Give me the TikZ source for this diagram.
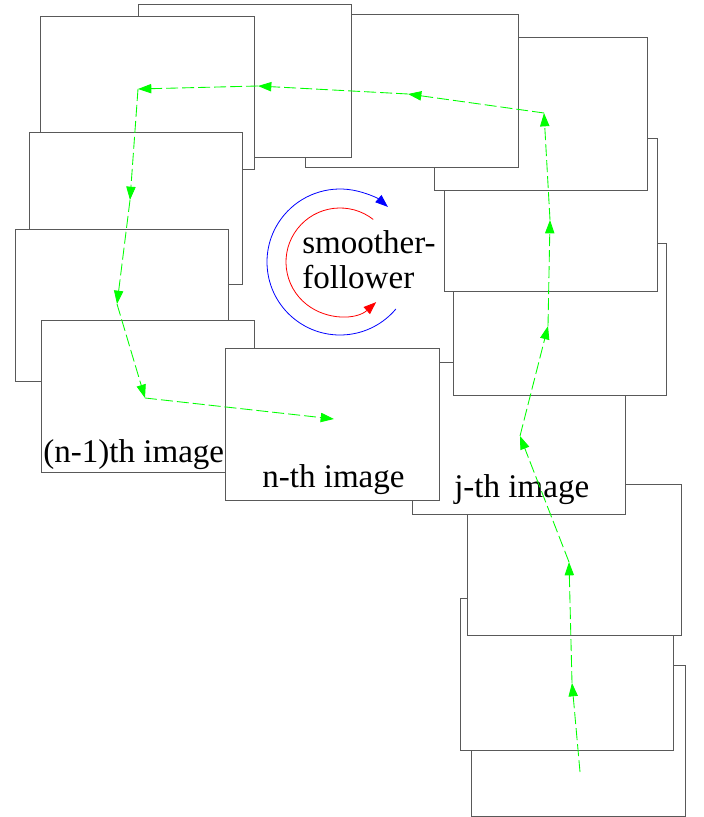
\documentclass[tikz,border=0pt]{standalone}
\usepackage{fontspec}
\setmainfont{Liberation Serif}
\usetikzlibrary{arrows.meta}
\begin{document}
\begin{tikzpicture}[x=0.75pt,y=-0.75pt,
  frame/.style={draw=black!65,line width=0.75pt,fill=white},
  track/.style={draw=green,line width=0.65pt,dash pattern=on 9pt off 3pt,
    -{Triangle[length=10pt,width=7pt]}},
  loop/.style={line width=0.6pt,-{Triangle[length=9.5pt,width=7pt]}},
  label/.style={inner sep=0pt,anchor=base west,font=\fontsize{24.8}{30}\selectfont}]
\useasboundingbox (0,0) rectangle (703,817);

% image frames, oldest at the back, newest on top
\draw[frame] (471,665) rectangle (685,816);
\draw[frame] (460,598) rectangle (673,750);
\draw[frame] (467,484) rectangle (681,635);
\draw[frame] (412,362) rectangle (625,514);
\draw[frame] (453,243) rectangle (666,395);
\draw[frame] (444,138) rectangle (657,291);
\draw[frame] (434,38) rectangle (647,190);
\draw[frame] (305,15) rectangle (518,167);
\draw[frame] (138,5) rectangle (351,157);
\draw[frame] (40,17) rectangle (254,169);
\draw[frame] (29,132) rectangle (242,284);
\draw[frame] (15,229) rectangle (228,381);
\draw[frame] (41,320) rectangle (254,472);
\draw[frame] (225,348) rectangle (439,500);

% frame labels
\node[label] (prev) at (43,462) {(n-1)th image};
\node[label] (curr) at (262,487) {n-th image};
\node[label] (jth) at (454,497) {j-th image};
\node[label] (sm1) at (302,253) {smoother-};
\node[label] (sm2) at (302,288) {follower};

% smoother / follower loops
\coordinate (ctr) at (340,262);
\draw[loop,blue] (ctr) ++(320:54.75pt) arc[start angle=320,end angle=49,radius=54.75pt];
\draw[loop,red] (ctr) ++(52:40.5pt) arc[start angle=52,end angle=312,radius=40.5pt];

% camera track through the frame centres
\coordinate (p0) at (580,772);
\coordinate (p1) at (572,683);
\coordinate (p2) at (569,562);
\coordinate (p3) at (520,436);
\coordinate (p4) at (548,326);
\coordinate (p5) at (550,220);
\coordinate (p6) at (544,113);
\coordinate (p7) at (408,94);
\coordinate (p8) at (258,86);
\coordinate (p9) at (138,89);
\coordinate (p10) at (130,200);
\coordinate (p11) at (117,304);
\coordinate (p12) at (145,398);
\coordinate (p13) at (334,419);
\foreach \a/\b in {p0/p1,p1/p2,p2/p3,p3/p4,p4/p5,p5/p6,p6/p7,p7/p8,p8/p9,p9/p10,p10/p11,p11/p12,p12/p13}
  \draw[track] (\a) -- (\b);
\end{tikzpicture}
\end{document}
